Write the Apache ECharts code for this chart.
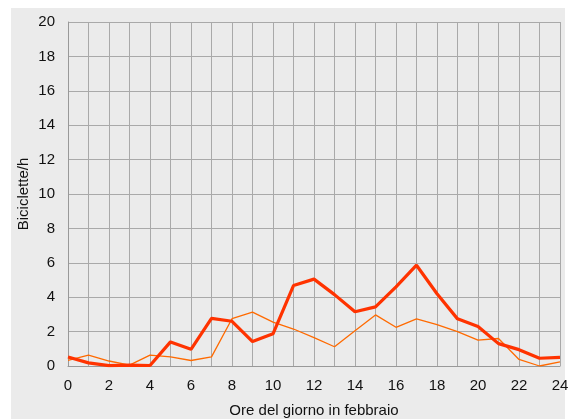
<!DOCTYPE html>
<html><head><meta charset="utf-8">
<script src="https://cdn.jsdelivr.net/npm/echarts@6/dist/echarts.min.js"></script>
<style>html,body{margin:0;padding:0;background:#fff}#c{width:569px;height:419px}</style>
</head><body><div id="c"></div>
<script>
const hours = [0,1,2,3,4,5,6,7,8,9,10,11,12,13,14,15,16,17,18,19,20,21,22,23,24];
const seriesThick = [0.52,0.18,0.02,0.05,0.03,1.4,0.97,2.77,2.6,1.42,1.87,4.68,5.05,4.15,3.15,3.44,4.6,5.86,4.2,2.74,2.3,1.3,0.95,0.45,0.5];
const seriesThin = [0.33,0.63,0.29,0.05,0.63,0.53,0.32,0.53,2.75,3.13,2.55,2.15,1.65,1.12,2.05,2.97,2.25,2.74,2.4,2.0,1.5,1.6,0.38,0.0,0.24];
const xName = 'Ore del giorno in febbraio';
const yName = 'Biciclette/h';

const chart = echarts.init(document.getElementById('c'), null, {renderer:'canvas'});
const font = 'Liberation Sans, Arial, sans-serif';
chart.setOption({
  animation:false,
  backgroundColor:'#ffffff',
  graphic:[{type:'rect',z:-10,silent:true,shape:{x:11,y:8,width:554,height:411},style:{fill:'#ebebeb'}}],
  grid:{left:68,right:9,top:22,bottom:53,containLabel:false,outerBoundsMode:'none'},
  xAxis:{type:'value',min:0,max:24,interval:1,
    name:xName,nameLocation:'middle',nameGap:37,nameMoveOverlap:false,
    nameTextStyle:{fontFamily:font,fontSize:15,color:'#111'},
    axisLine:{show:true,lineStyle:{color:'#999',width:1}},
    axisTick:{show:false},
    axisLabel:{fontFamily:font,fontSize:15,color:'#111',margin:12,
      formatter:v=> (v%2===0? String(v):'')},
    splitLine:{show:true,lineStyle:{color:'#a9a9a9',width:1}}},
  yAxis:{type:'value',min:0,max:20,interval:2,
    name:yName,nameLocation:'middle',nameGap:37,nameMoveOverlap:false,
    nameTextStyle:{fontFamily:font,fontSize:15,color:'#111'},
    axisLine:{show:true,lineStyle:{color:'#999',width:1}},
    axisTick:{show:false},
    axisLabel:{fontFamily:font,fontSize:15,color:'#111',margin:13},
    splitLine:{show:true,lineStyle:{color:'#a9a9a9',width:1}}},
  series:[
    {type:'line',data:hours.map((h,i)=>[h,seriesThin[i]]),symbol:'none',
     lineStyle:{color:'#ff6a00',width:1.3},z:2},
    {type:'line',data:hours.map((h,i)=>[h,seriesThick[i]]),symbol:'none',
     lineStyle:{color:'#ff3300',width:3.2},z:3}
  ]
});
</script></body></html>
